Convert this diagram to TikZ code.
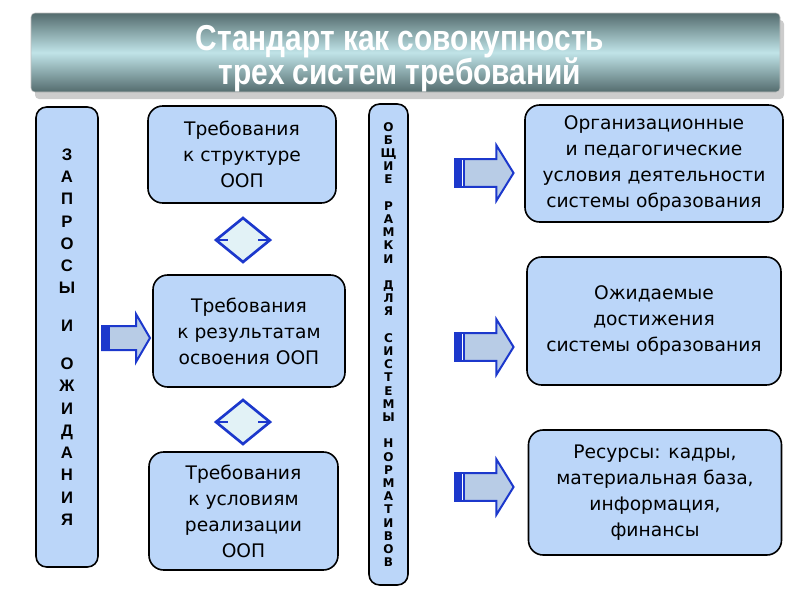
\documentclass[tikz,border=0pt]{standalone}
\usepackage{fontspec}
\setmainfont{DejaVu Sans}
\newfontfamily\titlefont[FakeStretch=0.83]{Liberation Sans}
\newfontfamily\capsfont{Liberation Sans}

\definecolor{boxblue}{RGB}{187,214,249}
\definecolor{arrowfill}{RGB}{184,204,230}
\definecolor{arrowline}{RGB}{28,56,204}
\definecolor{linkfill}{RGB}{226,242,246}
\definecolor{bannerdark}{RGB}{84,108,110}
\definecolor{bannerlight}{RGB}{192,228,232}

\tikzset{
    reqbox/.style={draw=black, line width=1.2pt, fill=boxblue, rounded corners=11pt,
        align=center, inner sep=0pt, font=\fontsize{14}{19.5}\selectfont},
    colbox/.style={draw=black, line width=1.2pt, fill=boxblue, rounded corners=8pt,
        align=center, inner sep=0pt},
    titletext/.style={align=center, text=white,
        font=\titlefont\bfseries\fontsize{27}{26}\selectfont},
    arrowbody/.style={draw=arrowline, fill=arrowfill, line width=1.5pt, line join=miter},
    linkbody/.style={draw=arrowline, fill=linkfill, line width=2pt, line join=miter},
    pics/blockarrow/.style={code={
        \filldraw[arrowbody] (0,-12) -- (34,-12) -- (34,-24) -- (48,0) -- (34,24)
            -- (34,12) -- (0,12) -- cycle;
        \fill[arrowline] (0,-12) rectangle (8,12);
        \draw[#1, line width=0.6pt] (6,-11) -- (6,11);
    }},
    pics/linkdiamond/.style={code={
        \filldraw[linkbody] (-27,0) -- (0,-22) -- (27,0) -- (0,22) -- cycle;
        \draw[arrowline, line width=1.5pt] (-27,0) -- (-15,0) (15,0) -- (27,0);
    }}
}

\begin{document}
\begin{tikzpicture}[x=0.75pt, y=-0.75pt]
    \useasboundingbox (0,0) rectangle (800,600);

    % title banner
    \fill[black!20, rounded corners=3pt] (35,20) rectangle (784,99);
    \shadedraw[top color=bannerdark, bottom color=bannerdark, middle color=bannerlight,
        draw=black!25, rounded corners=3pt] (31,13) rectangle (780,92);
    \node[titletext] (title) at (400,58.5) {Стандарт как совокупность\\трех систем требований};

    % side columns
    \node[colbox, minimum width=46.5pt, minimum height=345pt,
        font=\capsfont\bfseries\fontsize{12.5}{16.7}\selectfont] (requests) at (67,337)
        {З\\А\\П\\Р\\О\\С\\Ы\\[11.7pt]И\\[11.7pt]О\\Ж\\И\\Д\\А\\Н\\И\\Я};
    \node[colbox, minimum width=29.25pt, minimum height=360.75pt,
        font=\bfseries\fontsize{9}{9.9}\selectfont] (frames) at (388.5,344.5)
        {О\\Б\\Щ\\И\\Е\\\mbox{}\\Р\\А\\М\\К\\И\\\mbox{}\\Д\\Л\\Я\\\mbox{}\\С\\И\\С\\Т\\Е\\М\\Ы\\\mbox{}\\Н\\О\\Р\\М\\А\\Т\\И\\В\\О\\В};

    % requirement boxes
    \node[reqbox, minimum width=141pt, minimum height=72.75pt] (structure) at (242,154.5)
        {Требования\\к структуре\\ООП};
    \node[reqbox, minimum width=144pt, minimum height=84pt] (results) at (249,331)
        {Требования\\к результатам\\освоения ООП};
    \node[reqbox, minimum width=141.75pt, minimum height=88.5pt] (conditions) at (243.5,511)
        {Требования\\к условиям\\реализации\\ООП};

    % system boxes
    \node[reqbox, minimum width=193.5pt, minimum height=87.75pt] (organisation) at (654,163.5)
        {Организационные\\и педагогические\\условия деятельности\\системы образования};
    \node[reqbox, minimum width=190.5pt, minimum height=96pt] (outcomes) at (654,321)
        {Ожидаемые\\достижения\\системы образования};
    \node[reqbox, minimum width=189.75pt, minimum height=93.75pt] (resources) at (655,492.5)
        {Ресурсы: кадры,\\материальная база,\\информация,\\финансы};

    % links and arrows
    \pic at (243,240) {linkdiamond};
    \pic at (243,422) {linkdiamond};
    \pic at (102,338) {blockarrow=arrowline};
    \pic[xscale=1.22, yscale=1.15] at (455,173) {blockarrow=white};
    \pic[xscale=1.22, yscale=1.15] at (455,347) {blockarrow=white};
    \pic[xscale=1.22, yscale=1.15] at (455,487) {blockarrow=white};
\end{tikzpicture}
\end{document}
